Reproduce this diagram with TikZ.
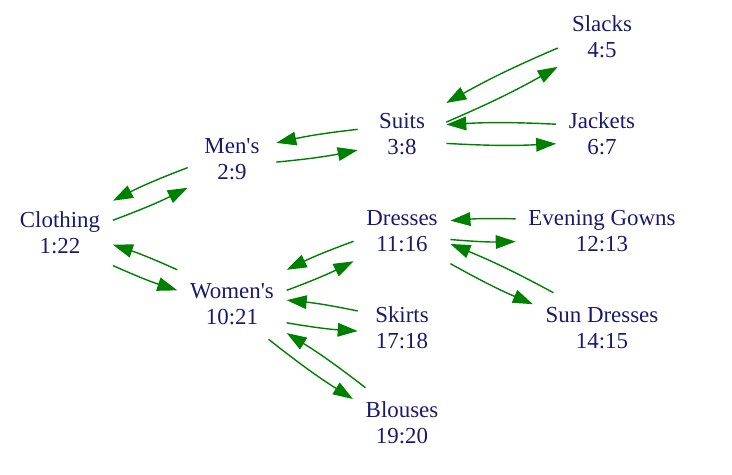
\documentclass[tikz,border=0pt]{standalone}
\usepackage{fontspec}
\setmainfont{Liberation Serif}
\usepackage{tikz}
\tikzset{>=latex}
\usetikzlibrary{arrows.meta}
\definecolor{label}{RGB}{25,25,112}
\definecolor{edge}{RGB}{0,128,0}

\begin{document}
\begin{tikzpicture}[
        item/.style = {rectangle, align=center, text=label, inner xsep=0.3125cm, minimum width=2.2cm, minimum height=1.75cm, font=\fontsize{16.3}{18.4}\selectfont},
        link/.style = {edge, line width=1pt, -{Triangle[length=0.5cm, width=0.34cm]}, bend right=3}
    ]
            \useasboundingbox (0, 0) rectangle (18.3, 11.875);
            \node[item] (clothing) at (1.5, 6.0625) {Clothing\\1:22};
            \node[item] (mens) at (5.8, 7.9) {Men\textquotesingle s\\2:9};
            \node[item] (womens) at (5.8, 4.275) {Women\textquotesingle s\\10:21};
            \node[item] (suits) at (10.05, 8.525) {Suits\\3:8};
            \node[item] (dresses) at (10.05, 6.1) {Dresses\\11:16};
            \node[item] (skirts) at (10.05, 3.675) {Skirts\\17:18};
            \node[item] (blouses) at (10.05, 1.3) {Blouses\\19:20};
            \node[item] (slacks) at (15.05, 10.95) {Slacks\\4:5};
            \node[item] (jackets) at (15.05, 8.525) {Jackets\\6:7};
            \node[item] (gowns) at (15.05, 6.1) {Evening Gowns\\12:13};
            \node[item] (sun) at (15.05, 3.675) {Sun Dresses\\14:15};
            \foreach \a/\b/\s/\e in {
                    clothing/mens/13.8/213.4, mens/clothing/191.3/31.9,
                    clothing/womens/328.1/166.2, womens/clothing/148.3/347.6,
                    mens/suits/356.2/200, suits/mens/174.9/20.4,
                    suits/slacks/15.3/214.3, slacks/suits/194.9/35.8,
                    suits/jackets/348.7/192, jackets/suits/168/12.8,
                    womens/dresses/14.5/212.3, dresses/womens/192/32.9,
                    womens/skirts/341.9/184, skirts/womens/159.3/4.1,
                    womens/blouses/316.7/154.4, blouses/womens/136.7/332.2,
                    dresses/gowns/350/187.3, gowns/dresses/172.3/12.7,
                    dresses/sun/326.9/161.1, sun/dresses/144.5/345.1} {
                \draw[link] (\a.\s) to (\b.\e);
            }
        \end{tikzpicture}
\end{document}
